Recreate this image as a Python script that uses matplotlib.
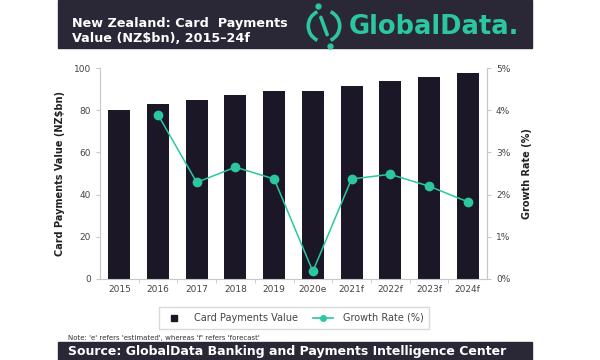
import matplotlib.pyplot as plt
from matplotlib.lines import Line2D
from matplotlib.patches import Rectangle, Arc
from matplotlib.ticker import FuncFormatter

years = ["2015", "2016", "2017", "2018", "2019", "2020e", "2021f", "2022f", "2023f", "2024f"]
card_value = [80.0, 83.1, 85.0, 87.2, 89.2, 89.3, 91.5, 93.8, 95.7, 97.6]
growth_years = years[1:]
growth_rate = [3.89, 2.29, 2.65, 2.37, 0.18, 2.37, 2.48, 2.20, 1.83]

BAR = "#1c1726"
TEAL = "#2bc79f"
BANNER = "#2a2737"
GRID = "#c8c8c8"
TXT = "#444444"

fig = plt.figure(figsize=(6.0, 3.6), dpi=100)

# header / footer banners
fig.add_artist(Rectangle((58 / 600, 1 - 48 / 360), 474 / 600, 48 / 360,
                         transform=fig.transFigure, color=BANNER, zorder=-1))
fig.add_artist(Rectangle((58 / 600, 0), 474 / 600, 18 / 360,
                         transform=fig.transFigure, color=BANNER, zorder=-1))
fig.text(72 / 600, 1 - 23 / 360, "New Zealand: Card  Payments", color="white",
         fontsize=9.2, fontweight="bold", va="center", ha="left")
fig.text(72 / 600, 1 - 39 / 360, "Value (NZ$bn), 2015–24f", color="white",
         fontsize=9.2, fontweight="bold", va="center", ha="left")
fig.text(349 / 600, 1 - 27 / 360, "GlobalData.", color=TEAL, fontsize=18.5,
         fontweight="bold", va="center", ha="left")

# logo icon: open ring with a slash
ax_logo = fig.add_axes([302 / 600, 1 - 52 / 360, 44 / 600, 52 / 360], zorder=2)
ax_logo.set_xlim(-1.4, 1.4)
ax_logo.set_ylim(-1.65, 1.65)
ax_logo.set_aspect("equal")
ax_logo.axis("off")
ax_logo.add_patch(Arc((0, 0), 2.0, 2.0, theta1=115, theta2=245, color=TEAL, lw=2.6))
ax_logo.add_patch(Arc((0, 0), 2.0, 2.0, theta1=-65, theta2=65, color=TEAL, lw=2.6))
ax_logo.plot([-0.2, 0.2], [0.55, -0.55], color=TEAL, lw=2.6, solid_capstyle="round")
ax_logo.plot([-0.4, 0.4], [1.3, -1.3], "o", color=TEAL, ms=3.5)

fig.text(68 / 600, 9 / 360, "Source: GlobalData Banking and Payments Intelligence Center",
         color="white", fontsize=9, fontweight="bold", va="center", ha="left")
fig.text(68 / 600, 1 - 338 / 360, "Note: 'e' refers 'estimated', whereas 'f' refers 'forecast'",
         color="#333333", fontsize=5, va="center", ha="left")

# main chart
ax = fig.add_axes([100 / 600, 1 - 279 / 360, 387 / 600, 211 / 360])
x = list(range(len(years)))
ax.bar(x, card_value, width=0.57, color=BAR, zorder=2)
ax.set_xlim(-0.5, len(years) - 0.5)
ax.set_ylim(0, 100)
ax.set_yticks([0, 20, 40, 60, 80, 100])
ax.set_xticks(x)
ax.set_xticklabels(years)
ax.set_xticks([i + 0.5 for i in x[:-1]], minor=True)
ax.tick_params(axis="x", which="major", length=0, labelsize=6.5, colors=TXT, pad=4)
ax.tick_params(axis="x", which="minor", length=3, color=GRID)
ax.tick_params(axis="y", length=3, color=GRID, labelsize=6.5, labelcolor=TXT)
for side in ["left", "bottom", "right"]:
    ax.spines[side].set_color(GRID)
    ax.spines[side].set_linewidth(0.8)
ax.spines["top"].set_visible(False)
ax.set_ylabel("Card Payments Value (NZ$bn)", fontsize=7, fontweight="bold",
              color="#222222", labelpad=6)

ax2 = ax.twinx()
gx = [years.index(y) for y in growth_years]
ax2.plot(gx, growth_rate, color=TEAL, lw=1.1, marker="o", ms=6, zorder=3)
ax2.set_ylim(0, 5)
ax2.set_yticks([0, 1, 2, 3, 4, 5])
ax2.yaxis.set_major_formatter(FuncFormatter(lambda v, _: f"{v:.0f}%"))
ax2.tick_params(axis="y", length=3, color=GRID, labelsize=6.5, labelcolor=TXT)
ax2.spines["right"].set_color(GRID)
ax2.spines["right"].set_linewidth(0.8)
for side in ["left", "bottom", "top"]:
    ax2.spines[side].set_visible(False)
ax2.set_ylabel("Growth Rate (%)", fontsize=7, fontweight="bold", color="#222222",
               labelpad=8)

handles = [
    Line2D([], [], marker="s", color=BAR, ls="none", ms=5),
    Line2D([], [], marker="o", color=TEAL, lw=1.2, ms=4),
]
leg = fig.legend(handles, ["Card Payments Value", "Growth Rate (%)"],
                 loc="center", bbox_to_anchor=(294 / 600, 1 - 318 / 360), ncol=2,
                 fontsize=7, frameon=True, fancybox=False, edgecolor="#d0d0d0",
                 handlelength=2.0, columnspacing=1.6, handletextpad=1.0,
                 borderpad=0.6)
for t in leg.get_texts():
    t.set_color(TXT)

fig.savefig("out.png", dpi=100)
